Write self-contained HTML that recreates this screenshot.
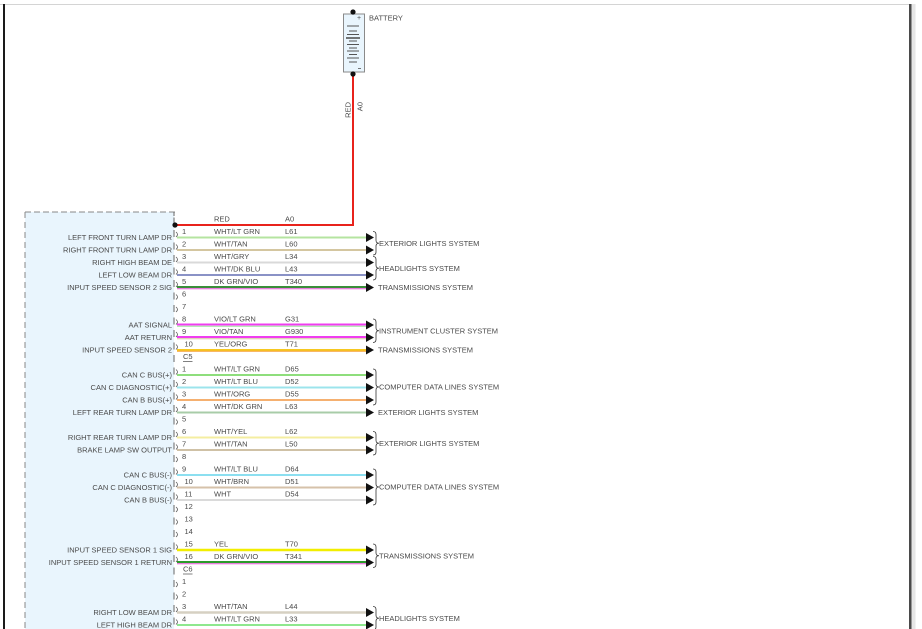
<!DOCTYPE html>
<html><head><meta charset="utf-8"><style>
html,body{margin:0;padding:0;background:#fff;}
svg{display:block;}
text{font-family:"Liberation Sans",Arial,sans-serif;font-size:7.5px;fill:#4a4a4a;}
</style></head><body>
<svg width="922" height="629" viewBox="0 0 922 629" xmlns="http://www.w3.org/2000/svg">
<rect x="0" y="0" width="922" height="629" fill="#fff"/>
<!-- frame -->
<line x1="0" y1="4.5" x2="910" y2="4.5" stroke="#d4d4d4" stroke-width="1"/>
<rect x="3" y="4" width="2" height="625" fill="#1a1a1a"/>
<rect x="909" y="4" width="2.5" height="625" fill="#4a4a4a"/>
<rect x="911.5" y="4" width="4" height="625" fill="#e6e6e6"/>

<!-- module box -->
<rect x="25" y="212" width="149" height="420" fill="#e9f5fd"/>
<line x1="25" y1="212" x2="175" y2="212" stroke="#888" stroke-width="1" stroke-dasharray="6 3"/>
<line x1="25" y1="212" x2="25" y2="629" stroke="#888" stroke-width="1" stroke-dasharray="6 4"/>
<path d="M174,212V216 M174,217.5V224.5 M174,230V237 M174,242.5V249.5 M174,255V262 M174,267.5V274.5 M174,280V287 M174,292.5V299.5 M174,305V312 M174,317.5V324.5 M174,330V337 M174,342.5V349.5 M174,355V362 M174,367.5V374.5 M174,380V387 M174,392.5V399.5 M174,405V412 M174,417.5V424.5 M174,430V437 M174,442.5V449.5 M174,455V462 M174,467.5V474.5 M174,480V487 M174,492.5V499.5 M174,505V512 M174,517.5V524.5 M174,530V537 M174,542.5V549.5 M174,555V562 M174,567.5V574.5 M174,580V587 M174,592.5V599.5 M174,605V612 M174,617.5V624.5" stroke="#666" stroke-width="1" fill="none"/>
<path d="M176,232 Q179,234.5 176,237 M176,244.5 Q179,247 176,249.5 M176,257 Q179,259.5 176,262 M176,269.5 Q179,272 176,274.5 M176,282 Q179,284.5 176,287 M176,294.5 Q179,297 176,299.5 M176,307 Q179,309.5 176,312 M176,319.5 Q179,322 176,324.5 M176,332 Q179,334.5 176,337 M176,344.5 Q179,347 176,349.5 M176,369.5 Q179,372 176,374.5 M176,382 Q179,384.5 176,387 M176,394.5 Q179,397 176,399.5 M176,407 Q179,409.5 176,412 M176,419.5 Q179,422 176,424.5 M176,432 Q179,434.5 176,437 M176,444.5 Q179,447 176,449.5 M176,457 Q179,459.5 176,462 M176,469.5 Q179,472 176,474.5 M176,482 Q179,484.5 176,487 M176,494.5 Q179,497 176,499.5 M176,507 Q179,509.5 176,512 M176,519.5 Q179,522 176,524.5 M176,532 Q179,534.5 176,537 M176,544.5 Q179,547 176,549.5 M176,557 Q179,559.5 176,562 M176,582 Q179,584.5 176,587 M176,594.5 Q179,597 176,599.5 M176,607 Q179,609.5 176,612 M176,619.5 Q179,622 176,624.5" stroke="#555" stroke-width="0.8" fill="none"/>

<!-- battery -->
<rect x="343.5" y="14" width="21" height="58" fill="#e9f5fd" stroke="#8a8a8a" stroke-width="1"/>
<g stroke="#555" stroke-width="1">
<line x1="347" y1="26" x2="359" y2="26"/>
<line x1="349" y1="31" x2="357" y2="31"/>
<line x1="347" y1="34.5" x2="359" y2="34.5"/>
<line x1="346" y1="38" x2="360" y2="38" stroke-width="1.6"/>
<line x1="349" y1="41" x2="357" y2="41"/>
<line x1="347" y1="44.5" x2="359" y2="44.5"/>
<line x1="349" y1="48" x2="357" y2="48"/>
<line x1="347" y1="51" x2="359" y2="51"/>
<line x1="349" y1="54.5" x2="357" y2="54.5"/>
<line x1="347" y1="58" x2="359" y2="58"/>
<line x1="349" y1="62" x2="357" y2="62"/>
</g>
<text x="357" y="20" style="font-size:7px">+</text>
<line x1="358" y1="68.5" x2="361" y2="68.5" stroke="#555" stroke-width="0.8"/>
<text x="369" y="20.7">BATTERY</text>

<!-- red feed -->
<line x1="353" y1="74" x2="353" y2="225" stroke="#e8231c" stroke-width="2"/>
<line x1="175" y1="225" x2="354" y2="225" stroke="#e8231c" stroke-width="2"/>
<circle cx="353" cy="12" r="2.6" fill="#111"/>
<circle cx="353" cy="74" r="2.6" fill="#111"/>
<circle cx="175" cy="225" r="2.6" fill="#111"/>
<text transform="translate(350.5,102) rotate(-90)" text-anchor="end">RED</text>
<text transform="translate(362.5,102) rotate(-90)" text-anchor="end">A0</text>

<!-- wires -->
<g stroke-width="2">
<line x1="177" y1="237.5" x2="367" y2="237.5" stroke="#b5e4a0"/>
<line x1="177" y1="250" x2="367" y2="250" stroke="#d4c6a0"/>
<line x1="177" y1="262.5" x2="367" y2="262.5" stroke="#d9d9d9"/>
<line x1="177" y1="275" x2="367" y2="275" stroke="#8a92c6"/>
<line x1="177" y1="287" x2="367" y2="287" stroke="#3a8e3a"/>
<line x1="177" y1="324.5" x2="367" y2="324.5" stroke="#f03cf0"/>
<line x1="177" y1="337" x2="367" y2="337" stroke="#f03cf0"/>
<line x1="177" y1="350" x2="367" y2="350" stroke="#f6c820"/>
<line x1="177" y1="375" x2="367" y2="375" stroke="#8ede7c"/>
<line x1="177" y1="387.5" x2="367" y2="387.5" stroke="#9ce4ec"/>
<line x1="177" y1="400" x2="367" y2="400" stroke="#f5b070"/>
<line x1="177" y1="412.5" x2="367" y2="412.5" stroke="#a8cca8"/>
<line x1="177" y1="437.5" x2="367" y2="437.5" stroke="#f4eea0"/>
<line x1="177" y1="450" x2="367" y2="450" stroke="#cfc1a6"/>
<line x1="177" y1="475" x2="367" y2="475" stroke="#8cdff0"/>
<line x1="177" y1="487.5" x2="367" y2="487.5" stroke="#d6c2aa"/>
<line x1="177" y1="500" x2="367" y2="500" stroke="#dadada"/>
<line x1="177" y1="550" x2="367" y2="550" stroke="#f2ee00" stroke-width="2.6"/>
<line x1="177" y1="562" x2="367" y2="562" stroke="#2b9a2b"/>
<line x1="177" y1="612.5" x2="367" y2="612.5" stroke="#d6d0c2" stroke-width="2.4"/>
<line x1="177" y1="625" x2="367" y2="625" stroke="#8ee88e"/>
</g>
<g stroke-width="1">
<line x1="177" y1="288.8" x2="367" y2="288.8" stroke="#e050d0"/>
<line x1="177" y1="326.3" x2="367" y2="326.3" stroke="#9fe09f"/>
<line x1="177" y1="338.8" x2="367" y2="338.8" stroke="#d8c0a0"/>
<line x1="177" y1="351.3" x2="367" y2="351.3" stroke="#f5a030"/>
<line x1="177" y1="563.8" x2="367" y2="563.8" stroke="#e050d0"/>
</g>

<!-- arrows -->
<g fill="#111">
<polygon points="366,233 374,237.5 366,242"/>
<polygon points="366,245.5 374,250 366,254.5"/>
<polygon points="366,258 374,262.5 366,267"/>
<polygon points="366,270.5 374,275 366,279.5"/>
<polygon points="366,283 374,287.5 366,292"/>
<polygon points="366,320.5 374,325 366,329.5"/>
<polygon points="366,333 374,337.5 366,342"/>
<polygon points="366,345.5 374,350 366,354.5"/>
<polygon points="366,370.5 374,375 366,379.5"/>
<polygon points="366,383 374,387.5 366,392"/>
<polygon points="366,395.5 374,400 366,404.5"/>
<polygon points="366,408 374,412.5 366,417"/>
<polygon points="366,433 374,437.5 366,442"/>
<polygon points="366,445.5 374,450 366,454.5"/>
<polygon points="366,470.5 374,475 366,479.5"/>
<polygon points="366,483 374,487.5 366,492"/>
<polygon points="366,495.5 374,500 366,504.5"/>
<polygon points="366,545.5 374,550 366,554.5"/>
<polygon points="366,558 374,562.5 366,567"/>
<polygon points="366,608 374,612.5 366,617"/>
<polygon points="366,620.5 374,625 366,629.5"/>
</g>

<!-- braces -->
<g stroke="#333" stroke-width="0.8" fill="none">
<path d="M373,231.5 Q376,231.5 376,234.5 L376,240.25 Q376,243.25 379,243.25 Q376,243.25 376,246.25 L376,252 Q376,255 373,255"/>
<path d="M373,256.5 Q376,256.5 376,259.5 L376,265.25 Q376,268.25 379,268.25 Q376,268.25 376,271.25 L376,277 Q376,280 373,280"/>
<path d="M373,319 Q376,319 376,322 L376,327.75 Q376,330.75 379,330.75 Q376,330.75 376,333.75 L376,339.5 Q376,342.5 373,342.5"/>
<path d="M373,369 Q376,369 376,372 L376,384 Q376,387 379,387 Q376,387 376,390 L376,402 Q376,405 373,405"/>
<path d="M373,431.5 Q376,431.5 376,434.5 L376,440.25 Q376,443.25 379,443.25 Q376,443.25 376,446.25 L376,452 Q376,455 373,455"/>
<path d="M373,469 Q376,469 376,472 L376,484 Q376,487 379,487 Q376,487 376,490 L376,502 Q376,505 373,505"/>
<path d="M373,544 Q376,544 376,547 L376,552.75 Q376,555.75 379,555.75 Q376,555.75 376,558.75 L376,564.5 Q376,567.5 373,567.5"/>
<path d="M373,606.5 Q376,606.5 376,609.5 L376,615.25 Q376,618.25 379,618.25 Q376,618.25 376,621.25 L376,627 Q376,630 373,630"/>
</g>

<!-- system labels -->
<text x="379" y="246">EXTERIOR LIGHTS SYSTEM</text>
<text x="379" y="271">HEADLIGHTS SYSTEM</text>
<text x="378" y="290.2">TRANSMISSIONS SYSTEM</text>
<text x="379" y="333.5">INSTRUMENT CLUSTER SYSTEM</text>
<text x="378" y="352.7">TRANSMISSIONS SYSTEM</text>
<text x="379" y="389.7">COMPUTER DATA LINES SYSTEM</text>
<text x="378" y="415.2">EXTERIOR LIGHTS SYSTEM</text>
<text x="379" y="446">EXTERIOR LIGHTS SYSTEM</text>
<text x="379" y="489.7">COMPUTER DATA LINES SYSTEM</text>
<text x="379" y="558.5">TRANSMISSIONS SYSTEM</text>
<text x="379" y="621">HEADLIGHTS SYSTEM</text>

<!-- left labels -->
<g text-anchor="end">
<text x="172" y="240.2">LEFT FRONT TURN LAMP DR</text>
<text x="172" y="252.7">RIGHT FRONT TURN LAMP DR</text>
<text x="172" y="265.2">RIGHT HIGH BEAM DE</text>
<text x="172" y="277.7">LEFT LOW BEAM DR</text>
<text x="172" y="290.2">INPUT SPEED SENSOR 2 SIG</text>
<text x="172" y="327.7">AAT SIGNAL</text>
<text x="172" y="340.2">AAT RETURN</text>
<text x="172" y="352.7">INPUT SPEED SENSOR 2</text>
<text x="172" y="377.7">CAN C BUS(+)</text>
<text x="172" y="390.2">CAN C DIAGNOSTIC(+)</text>
<text x="172" y="402.7">CAN B BUS(+)</text>
<text x="172" y="415.2">LEFT REAR TURN LAMP DR</text>
<text x="172" y="440.2">RIGHT REAR TURN LAMP DR</text>
<text x="172" y="452.7">BRAKE LAMP SW OUTPUT</text>
<text x="172" y="477.7">CAN C BUS(-)</text>
<text x="172" y="490.2">CAN C DIAGNOSTIC(-)</text>
<text x="172" y="502.7">CAN B BUS(-)</text>
<text x="172" y="552.7">INPUT SPEED SENSOR 1 SIG</text>
<text x="172" y="565.2">INPUT SPEED SENSOR 1 RETURN</text>
<text x="172" y="615.2">RIGHT LOW BEAM DR</text>
<text x="172" y="627.7">LEFT HIGH BEAM DR</text>
</g>

<!-- pin numbers -->
<text x="182" y="234.2">1</text>
<text x="182" y="246.7">2</text>
<text x="182" y="259.2">3</text>
<text x="182" y="271.7">4</text>
<text x="182" y="284.2">5</text>
<text x="182" y="296.7">6</text>
<text x="182" y="309.2">7</text>
<text x="182" y="321.7">8</text>
<text x="182" y="334.2">9</text>
<text x="184.5" y="346.7">10</text>
<text x="183" y="359.2">C5</text>
<line x1="183" y1="361.5" x2="192.5" y2="361.5" stroke="#4a4a4a" stroke-width="0.7"/>
<text x="182" y="371.7">1</text>
<text x="182" y="384.2">2</text>
<text x="182" y="396.7">3</text>
<text x="182" y="409.2">4</text>
<text x="182" y="421.7">5</text>
<text x="182" y="434.2">6</text>
<text x="182" y="446.7">7</text>
<text x="182" y="459.2">8</text>
<text x="182" y="471.7">9</text>
<text x="184.5" y="484.2">10</text>
<text x="184.5" y="496.7">11</text>
<text x="184.5" y="509.2">12</text>
<text x="184.5" y="521.7">13</text>
<text x="184.5" y="534.2">14</text>
<text x="184.5" y="546.7">15</text>
<text x="184.5" y="559.2">16</text>
<text x="183" y="571.7">C6</text>
<line x1="183" y1="574" x2="192.5" y2="574" stroke="#4a4a4a" stroke-width="0.7"/>
<text x="182" y="584.2">1</text>
<text x="182" y="596.7">2</text>
<text x="182" y="609.2">3</text>
<text x="182" y="621.7">4</text>

<!-- wire colors / circuits -->
<text x="214" y="221.7">RED</text><text x="285" y="221.7">A0</text>
<text x="214" y="234.2">WHT/LT GRN</text><text x="285" y="234.2">L61</text>
<text x="214" y="246.7">WHT/TAN</text><text x="285" y="246.7">L60</text>
<text x="214" y="259.2">WHT/GRY</text><text x="285" y="259.2">L34</text>
<text x="214" y="271.7">WHT/DK BLU</text><text x="285" y="271.7">L43</text>
<text x="214" y="284.2">DK GRN/VIO</text><text x="285" y="284.2">T340</text>
<text x="214" y="321.7">VIO/LT GRN</text><text x="285" y="321.7">G31</text>
<text x="214" y="334.2">VIO/TAN</text><text x="285" y="334.2">G930</text>
<text x="214" y="346.7">YEL/ORG</text><text x="285" y="346.7">T71</text>
<text x="214" y="371.7">WHT/LT GRN</text><text x="285" y="371.7">D65</text>
<text x="214" y="384.2">WHT/LT BLU</text><text x="285" y="384.2">D52</text>
<text x="214" y="396.7">WHT/ORG</text><text x="285" y="396.7">D55</text>
<text x="214" y="409.2">WHT/DK GRN</text><text x="285" y="409.2">L63</text>
<text x="214" y="434.2">WHT/YEL</text><text x="285" y="434.2">L62</text>
<text x="214" y="446.7">WHT/TAN</text><text x="285" y="446.7">L50</text>
<text x="214" y="471.7">WHT/LT BLU</text><text x="285" y="471.7">D64</text>
<text x="214" y="484.2">WHT/BRN</text><text x="285" y="484.2">D51</text>
<text x="214" y="496.7">WHT</text><text x="285" y="496.7">D54</text>
<text x="214" y="546.7">YEL</text><text x="285" y="546.7">T70</text>
<text x="214" y="559.2">DK GRN/VIO</text><text x="285" y="559.2">T341</text>
<text x="214" y="609.2">WHT/TAN</text><text x="285" y="609.2">L44</text>
<text x="214" y="621.7">WHT/LT GRN</text><text x="285" y="621.7">L33</text>
</svg>
</body></html>
